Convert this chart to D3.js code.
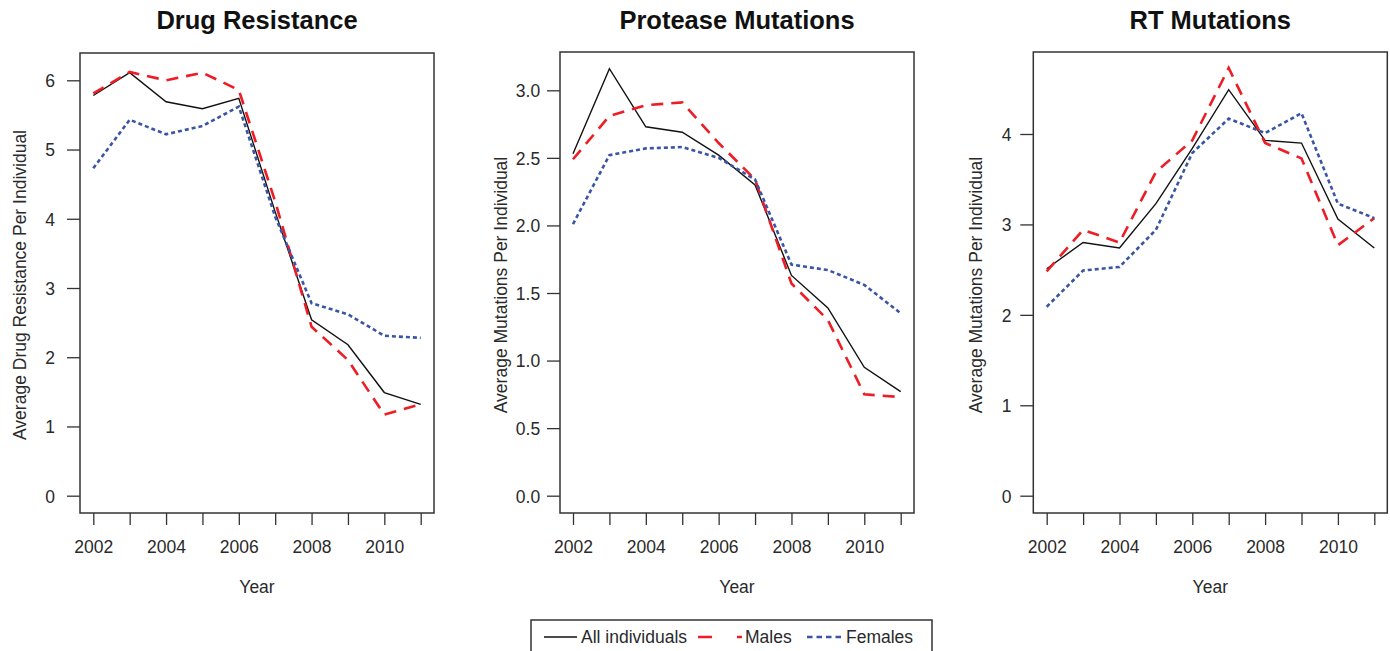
<!DOCTYPE html>
<html>
<head>
<meta charset="utf-8">
<script src="https://cdn.jsdelivr.net/npm/d3@7"></script>
<style>
  html, body { margin: 0; padding: 0; background: #fff; }
  svg { display: block; }
  text { font-family: "Liberation Sans", Arial, sans-serif; }
</style>
</head>
<body>
<svg id="chart" width="1390" height="651"></svg>
<script>
// ---- data ----
const years = [2002, 2003, 2004, 2005, 2006, 2007, 2008, 2009, 2010, 2011];
const yearTickLabels = [2002, 2004, 2006, 2008, 2010];

const seriesNames = ["All individuals", "Males", "Females"];

const drugAll     = [5.78, 6.11, 5.69, 5.59, 5.74, 4.10, 2.54, 2.18, 1.49, 1.32];
const drugMales   = [5.81, 6.12, 6.00, 6.11, 5.86, 4.25, 2.44, 1.96, 1.17, 1.32];
const drugFemales = [4.73, 5.43, 5.22, 5.34, 5.62, 4.03, 2.78, 2.62, 2.31, 2.28];
const drugTicks   = [0, 1, 2, 3, 4, 5, 6];

const protAll     = [2.53, 3.16, 2.73, 2.69, 2.52, 2.30, 1.63, 1.39, 0.95, 0.77];
const protMales   = [2.49, 2.81, 2.89, 2.91, 2.61, 2.34, 1.57, 1.30, 0.75, 0.73];
const protFemales = [2.01, 2.52, 2.57, 2.58, 2.50, 2.34, 1.71, 1.67, 1.56, 1.35];
const protTicks   = [0, 0.5, 1.0, 1.5, 2.0, 2.5, 3.0];

const rtAll       = [2.51, 2.80, 2.74, 3.23, 3.84, 4.49, 3.93, 3.90, 3.06, 2.74];
const rtMales     = [2.48, 2.94, 2.80, 3.58, 3.93, 4.73, 3.90, 3.73, 2.77, 3.07];
const rtFemales   = [2.09, 2.49, 2.53, 2.94, 3.79, 4.17, 4.01, 4.23, 3.23, 3.07];
const rtTicks     = [0, 1, 2, 3, 4];

const titles  = ["Drug Resistance", "Protease Mutations", "RT Mutations"];
const yLabels = ["Average Drug Resistance Per Individual", "Average Mutations Per Individual", "Average Mutations Per Individual"];

// ---- layout / style ----
const styles = [
  { color: "#111111", width: 1.4, dash: null },
  { color: "#ee1c25", width: 2.6, dash: "12,8" },
  { color: "#3a55a4", width: 2.6, dash: "4,3" }
];

const panels = [
  { title: titles[0], ylab: yLabels[0], series: [drugAll, drugMales, drugFemales], ticks: drugTicks, fmt: d3.format("d"),
    box: { l: 80, r: 434, t: 53, b: 513 }, xr: [93.3, 420.7], yd: [0, 6], yr: [495.7, 80.3], lblX: 50, ylabX: 20 },
  { title: titles[1], ylab: yLabels[1], series: [protAll, protMales, protFemales], ticks: protTicks, fmt: d3.format(".1f"),
    box: { l: 560, r: 914, t: 52, b: 513 }, xr: [573, 900.7], yd: [0, 3], yr: [495.7, 90.3], lblX: 528, ylabX: 501 },
  { title: titles[2], ylab: yLabels[2], series: [rtAll, rtMales, rtFemales], ticks: rtTicks, fmt: d3.format("d"),
    box: { l: 1033.3, r: 1387.3, t: 52, b: 513 }, xr: [1046.7, 1374.3], yd: [0, 4], yr: [495.7, 134], lblX: 1006.5, ylabX: 976 }
];

const svg = d3.select("#chart");
const textColor = "#2a2a2a";

panels.forEach(p => {
  const x = d3.scaleLinear().domain([years[0], years[years.length - 1]]).range(p.xr);
  const y = d3.scaleLinear().domain(p.yd).range(p.yr);
  const g = svg.append("g");

  // title
  g.append("text")
    .attr("x", (p.box.l + p.box.r) / 2).attr("y", 29)
    .attr("text-anchor", "middle")
    .attr("font-size", 25.5).attr("font-weight", "bold").attr("fill", "#111")
    .text(p.title);

  // y axis
  const yAxis = g.append("g").attr("transform", `translate(${p.box.l},0)`)
    .call(d3.axisLeft(y).tickValues(p.ticks).tickSize(13).tickFormat(p.fmt));
  yAxis.select(".domain").remove();
  yAxis.selectAll(".tick line").attr("stroke", "#333").attr("stroke-width", 1.3);
  yAxis.selectAll(".tick text")
    .attr("x", p.lblX - p.box.l).attr("text-anchor", "middle")
    .attr("dy", "0.36em")
    .attr("font-size", 17.5).attr("fill", textColor)
    .style("font-family", "'Liberation Sans', Arial, sans-serif");

  // x axis
  const xAxis = g.append("g").attr("transform", `translate(0,${p.box.b})`)
    .call(d3.axisBottom(x).tickValues(years).tickSize(12).tickFormat(d => yearTickLabels.includes(d) ? d : ""));
  xAxis.select(".domain").remove();
  xAxis.selectAll(".tick line").attr("stroke", "#333").attr("stroke-width", 1.3);
  xAxis.selectAll(".tick text")
    .attr("y", 40).attr("dy", 0)
    .attr("font-size", 17.5).attr("fill", textColor)
    .style("font-family", "'Liberation Sans', Arial, sans-serif");

  // axis titles
  g.append("text")
    .attr("x", (p.box.l + p.box.r) / 2).attr("y", 593)
    .attr("text-anchor", "middle").attr("font-size", 17.5).attr("fill", textColor)
    .text("Year");
  g.append("text")
    .attr("transform", `translate(${p.ylabX + 6},285) rotate(-90)`)
    .attr("text-anchor", "middle").attr("font-size", 17.5).attr("fill", textColor)
    .text(p.ylab);

  // lines
  const line = d3.line().x((d, i) => x(years[i])).y(d => y(d));
  p.series.forEach((s, k) => {
    g.append("path").datum(s)
      .attr("d", line)
      .attr("fill", "none")
      .attr("stroke", styles[k].color)
      .attr("stroke-width", styles[k].width)
      .attr("stroke-dasharray", styles[k].dash)
      .attr("stroke-linejoin", "miter");
  });

  // box
  g.append("rect")
    .attr("x", p.box.l).attr("y", p.box.t)
    .attr("width", p.box.r - p.box.l).attr("height", p.box.b - p.box.t)
    .attr("fill", "none").attr("stroke", "#333").attr("stroke-width", 1.5);
});

// ---- legend ----
const lg = svg.append("g");
lg.append("rect").attr("x", 531).attr("y", 620).attr("width", 401).attr("height", 45)
  .attr("fill", "none").attr("stroke", "#333").attr("stroke-width", 1.5);
const legendItems = [
  { x1: 544, x2: 577, tx: 581 },
  { x1: 698, x2: 742, tx: 745 },
  { x1: 807, x2: 841, tx: 846 }
];
const legendDash = [null, "14,25", "5.5,4"];
legendItems.forEach((it, k) => {
  lg.append("line").attr("x1", it.x1).attr("x2", it.x2).attr("y1", 637).attr("y2", 637)
    .attr("stroke", styles[k].color).attr("stroke-width", styles[k].width)
    .attr("stroke-dasharray", legendDash[k]);
  lg.append("text").attr("x", it.tx).attr("y", 643)
    .attr("font-size", 17.5).attr("fill", textColor)
    .text(seriesNames[k]);
});
</script>
</body>
</html>
